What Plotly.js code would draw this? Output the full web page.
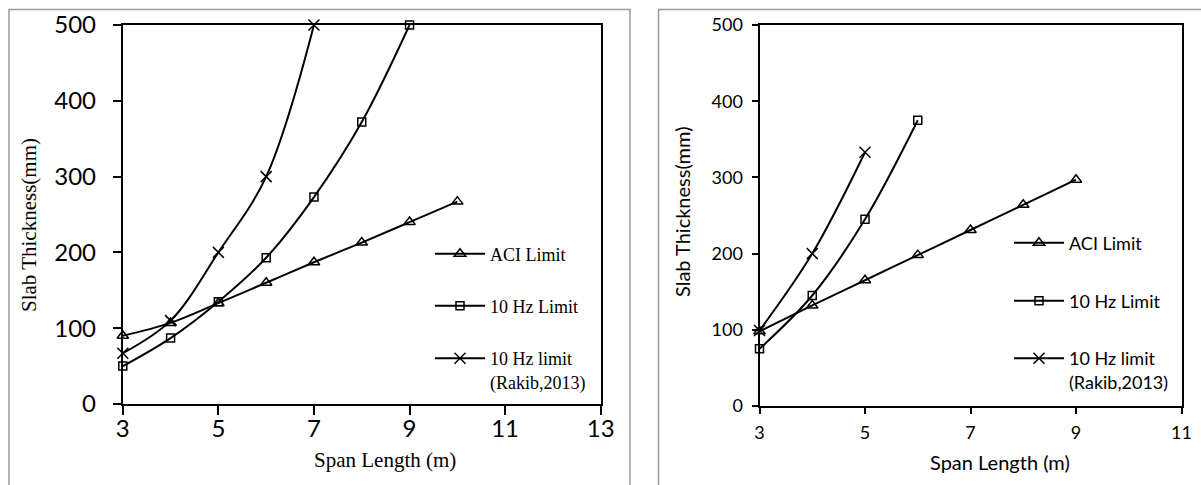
<!DOCTYPE html>
<html>
<head>
<meta charset="utf-8">
<script src="https://cdn.plot.ly/plotly-3.0.1.min.js"></script>
<style>html,body{margin:0;padding:0;background:#fff;}#chart{width:1201px;height:485px;}</style>
</head>
<body>
<div id="chart"></div>
<script>
// Left chart data
const spanA = [3, 4, 5, 6, 7, 8, 9, 10];
const aciA = [90, 107, 133, 160, 187, 213, 240, 267];
const spanHzA = [3, 4, 5, 6, 7, 8, 9];
const hzA = [50, 87, 135, 193, 273, 372, 500];
const spanRkA = [3, 4, 5, 6, 7];
const rkA = [67, 110, 200, 300, 500];

// Right chart data
const spanB = [3, 4, 5, 6, 7, 8, 9];
const aciB = [98, 132, 165, 198, 231, 264, 297];
const spanHzB = [3, 4, 5, 6];
const hzB = [75, 145, 245, 375];
const spanRkB = [3, 4, 5];
const rkB = [99, 200, 333];

const names = ["ACI Limit", "10 Hz Limit", "10 Hz limit<br>(Rakib,2013)"];
const xTitle = "Span Length (m)";
const yTitle = "Slab Thickness(mm)";
const xTicks = [3, 5, 7, 9, 11, 13];
const yTicks = [0, 100, 200, 300, 400, 500];

const W = 1201, H = 485;
const px = v => v / W;
const py = v => 1 - v / H;

function tr(x, y, name, sym, size, xa, ya, leg) {
  return {
    x: x, y: y, name: name, type: 'scatter', mode: 'lines+markers',
    xaxis: xa, yaxis: ya, legend: leg, cliponaxis: false,
    line: {color: '#000', width: 2, shape: 'spline', smoothing: 1},
    marker: {symbol: sym, size: size, color: '#000', line: {color: '#000', width: 1.5}}
  };
}

const data = [
  tr(spanA, aciA, names[0], 'triangle-up-open', 10, 'x', 'y', 'legend'),
  tr(spanHzA, hzA, names[1], 'square-open', 8, 'x', 'y', 'legend2'),
  tr(spanRkA, rkA, names[2], 'x-thin-open', 11, 'x', 'y', 'legend3'),
  tr(spanB, aciB, names[0], 'triangle-up-open', 10, 'x2', 'y2', 'legend4'),
  tr(spanHzB, hzB, names[1], 'square-open', 8, 'x2', 'y2', 'legend5'),
  tr(spanRkB, rkB, names[2], 'x-thin-open', 11, 'x2', 'y2', 'legend6')
];

const serif = 'Liberation Serif, Times New Roman, serif';
const sans = 'Lato, Noto Sans, sans-serif';

function leg(x, y, fam, size, yanchor) {
  return {
    x: px(x), y: py(y), xanchor: 'left', yanchor: yanchor || 'middle',
    bgcolor: 'rgba(0,0,0,0)', borderwidth: 0, itemwidth: 50, valign: 'top',
    font: {family: fam, size: size, color: '#000'}, tracegroupgap: 0
  };
}

function axisCommon(extra) {
  return Object.assign({
    showgrid: false, zeroline: false, showline: true, linecolor: '#000', linewidth: 2,
    mirror: true, ticks: 'outside', tickcolor: '#000', tickwidth: 2,
    tickmode: 'array', fixedrange: true, color: '#000'
  }, extra);
}

function title(text, x, y, fam, size, angle) {
  return {text: text, xref: 'paper', yref: 'paper', x: px(x), y: py(y),
    xanchor: 'center', yanchor: 'middle', showarrow: false, textangle: angle || 0,
    font: {family: fam, size: size, color: '#000'}};
}

const layout = {
  width: W, height: H, showlegend: true,
  margin: {l: 0, r: 0, t: 0, b: 0},
  paper_bgcolor: '#fff', plot_bgcolor: '#fff',
  xaxis: axisCommon({domain: [px(122.8), px(600.7)], range: [3, 13], anchor: 'y',
    tickvals: xTicks, ticklen: 9, tickfont: {family: sans, size: 24}, ticklabelstandoff: -7}),
  yaxis: axisCommon({domain: [py(404), py(25)], range: [0, 500], anchor: 'x',
    tickvals: yTicks, ticklen: 8, tickfont: {family: sans, size: 24}, ticklabelstandoff: 12}),
  xaxis2: axisCommon({domain: [px(759.5), px(1181.5)], range: [3, 11], anchor: 'y2',
    tickvals: xTicks.slice(0, 5), ticklen: 6, tickfont: {family: sans, size: 18}, ticklabelstandoff: 3}),
  yaxis2: axisCommon({domain: [py(406), py(25)], range: [0, 500], anchor: 'x2',
    tickvals: yTicks, ticklen: 6, tickfont: {family: sans, size: 18}, ticklabelstandoff: 5}),
  annotations: [
    title(xTitle, 385, 460, serif, 21),
    title(yTitle, 29, 225, serif, 21, -90),
    title(xTitle, 1000, 462, sans, 20),
    title(yTitle, 682, 212, sans, 20, -90)
  ],
  legend: leg(430, 254, serif, 18),
  legend2: leg(430, 306, serif, 18),
  legend3: leg(430, 340, serif, 18, 'top'),
  legend4: leg(1009, 243, sans, 18),
  legend5: leg(1009, 301, sans, 18),
  legend6: leg(1009, 340, sans, 18, 'top'),
  shapes: [
    {type: 'rect', xref: 'paper', yref: 'paper', x0: px(9), x1: px(630), y0: -0.1, y1: py(9.5),
     line: {color: '#9a9a9a', width: 1.5}, fillcolor: 'rgba(0,0,0,0)', layer: 'below'},
    {type: 'rect', xref: 'paper', yref: 'paper', x0: px(658.5), x1: 1.1, y0: -0.1, y1: py(9.5),
     line: {color: '#9a9a9a', width: 1.5}, fillcolor: 'rgba(0,0,0,0)', layer: 'below'}
  ]
};

Plotly.newPlot('chart', data, layout, {displayModeBar: false, staticPlot: true});
</script>
</body>
</html>
